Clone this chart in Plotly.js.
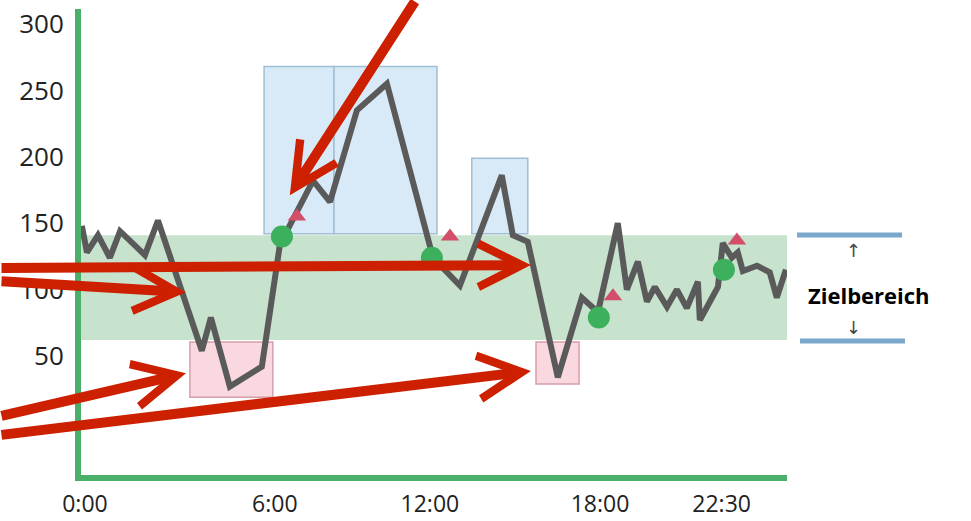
<!DOCTYPE html>
<html>
<head>
<meta charset="utf-8">
<script src="https://cdn.plot.ly/plotly-3.0.1.min.js"></script>
<style>
  html, body { margin: 0; padding: 0; background: #fff; }
  #chart { width: 971px; height: 521px; }
</style>
</head>
<body>
<div id="chart"></div>
<script>
// ---- data ----
const timeH = [-0.11, 0.07, 0.46, 0.88, 1.24, 2.12, 2.58, 4.13, 4.45, 5.12, 6.25, 6.89, 8.06, 8.66, 9.61, 10.67,
  12.30, 13.25, 14.73, 15.12, 15.65, 16.71, 17.56, 18.13, 18.83, 19.15, 19.54, 19.86, 20.14, 20.57, 20.92,
  21.27, 21.66, 21.73, 22.19, 22.37, 22.54, 22.86, 23.07, 23.25, 23.75, 24.20, 24.45, 24.77];
const glucose = [148, 128, 141, 124, 144, 126, 152, 54, 79, 27, 42, 134, 182, 166, 235, 255,
  124, 103, 186, 141, 136, 34, 94, 83, 150, 100, 121, 91, 102, 87, 100,
  86, 106, 77, 95, 102, 135, 124, 128, 114, 118, 113, 94, 115];

const mealH = [6.96, 12.26, 18.16, 22.58];
const mealVal = [140, 124, 79, 115];

const insulinH = [7.49, 12.9, 18.66, 23.04];
const insulinVal = [155, 140, 95, 137];

const targetLow = 62;
const targetHigh = 141;

// high phases
const highStart = [6.33, 8.80, 13.67];
const highEnd = [8.80, 12.44, 15.65];
const highTop = [268, 268, 199];
// low phases
const lowStart = [3.71, 15.94];
const lowEnd = [6.64, 17.46];
const lowBottom = [19, 29];

const tickH = [0, 6.71, 12.19, 18.2, 22.5];
const tickText = ['0:00', '6:00', '12:00', '18:00', '22:30'];
const yTicks = [50, 100, 150, 200, 250, 300];

// arrow targets (data coords) and tail offsets (px)
const arrowTipH = [7.24, 15.76, 3.57, 3.57, 15.76];
const arrowTipV = [171, 118.5, 98, 37, 38.7];
const arrowAx = [126, -551, -206, -206, -551];
const arrowAy = [-210, 3, -11, 43, 64];

// ---- build ----
const shapes = [];
shapes.push({type: 'rect', xref: 'paper', yref: 'y', x0: 0, x1: 1, y0: targetLow, y1: targetHigh,
  fillcolor: 'rgb(199,226,205)', line: {width: 0}, layer: 'below'});
for (let i = 0; i < highStart.length; i++) {
  shapes.push({type: 'rect', xref: 'x', yref: 'y', x0: highStart[i], x1: highEnd[i], y0: targetHigh + 1, y1: highTop[i],
    fillcolor: 'rgb(216,234,247)', line: {color: 'rgb(160,190,212)', width: 1.5}, layer: 'below'});
}
for (let i = 0; i < lowStart.length; i++) {
  shapes.push({type: 'rect', xref: 'x', yref: 'y', x0: lowStart[i], x1: lowEnd[i], y0: lowBottom[i], y1: targetLow - 1.5,
    fillcolor: 'rgb(250,216,223)', line: {color: 'rgb(214,158,170)', width: 1.5}, layer: 'below'});
}
// Zielbereich legend lines
shapes.push({type: 'line', xref: 'paper', yref: 'paper', x0: 1.0142, x1: 1.1629, y0: 0.515, y1: 0.515,
  line: {color: 'rgb(122,167,204)', width: 5}});
shapes.push({type: 'line', xref: 'paper', yref: 'paper', x0: 1.0184, x1: 1.1671, y0: 0.2876, y1: 0.2876,
  line: {color: 'rgb(122,167,204)', width: 5}});

const annotations = [];
for (let i = 0; i < arrowTipH.length; i++) {
  annotations.push({x: arrowTipH[i], y: arrowTipV[i], xref: 'x', yref: 'y', text: '', showarrow: true,
    ax: arrowAx[i], ay: arrowAy[i], arrowcolor: 'rgb(204,32,0)', arrowwidth: 10, arrowhead: 5, arrowsize: 0.85});
}
annotations.push({xref: 'paper', yref: 'paper', x: 1.1161, y: 0.3863, xanchor: 'center', yanchor: 'middle',
  text: 'Zielbereich', showarrow: false,
  font: {family: 'Open Sans', size: 22, color: '#000', weight: 700}});
annotations.push({xref: 'paper', yref: 'paper', x: 1.094, y: 0.4807, xanchor: 'center', yanchor: 'middle',
  text: '↑', showarrow: false, font: {family: 'DejaVu Sans', size: 18, color: '#444'}});
annotations.push({xref: 'paper', yref: 'paper', x: 1.094, y: 0.3155, xanchor: 'center', yanchor: 'middle',
  text: '↓', showarrow: false, font: {family: 'DejaVu Sans', size: 18, color: '#444'}});

const traces = [
  {x: timeH, y: glucose, type: 'scatter', mode: 'lines', line: {color: '#5a5a5a', width: 6}, hoverinfo: 'skip'},
  {x: mealH, y: mealVal, type: 'scatter', mode: 'markers', marker: {color: 'rgb(61,176,94)', size: 22}, hoverinfo: 'skip'},
  {x: insulinH, y: insulinVal, type: 'scatter', mode: 'markers', marker: {color: 'rgb(210,78,105)', size: 16, symbol: 'triangle-up'}, hoverinfo: 'skip'}
];

const axisCommon = {
  showgrid: false, zeroline: false, showline: true, linecolor: 'rgb(74,175,105)', linewidth: 6,
  ticks: '', fixedrange: true
};

const layout = {
  width: 971, height: 521,
  margin: {l: 81, r: 184, t: 9, b: 46, pad: 0},
  paper_bgcolor: '#fff', plot_bgcolor: '#fff',
  showlegend: false,
  xaxis: Object.assign({}, axisCommon, {range: [-0.14, 24.81], tickmode: 'array', tickvals: tickH, ticktext: tickText,
    tickfont: {family: 'Open Sans', size: 23, color: '#222'}, ticklabelstandoff: 3}),
  yaxis: Object.assign({}, axisCommon, {range: [-39.6, 311.3], tickmode: 'array', tickvals: yTicks,
    tickfont: {family: 'Open Sans', size: 26, color: '#222'}, ticklabelstandoff: 6}),
  shapes: shapes,
  annotations: annotations
};

Plotly.newPlot('chart', traces, layout, {displayModeBar: false, staticPlot: true});
</script>
</body>
</html>
